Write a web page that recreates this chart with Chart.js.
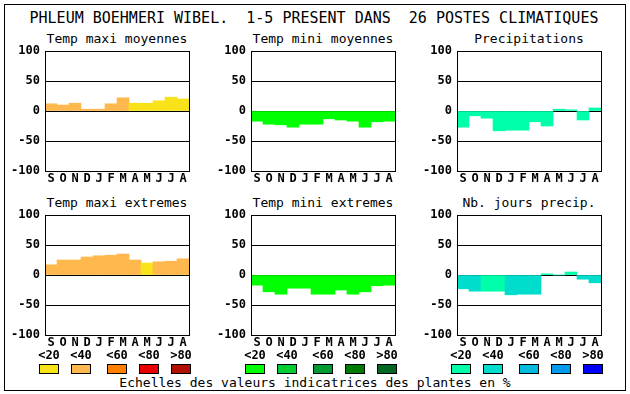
<!DOCTYPE html>
<html>
<head>
<meta charset="utf-8">
<script src="https://cdn.jsdelivr.net/npm/chart.js@4/dist/chart.umd.min.js"></script>
<style>
  body { margin: 0; background: #fff; }
  #page { position: relative; width: 630px; height: 394px; font-family: "DejaVu Sans Mono", monospace; color: #000; }
  #frame { position: absolute; left: 4px; top: 4px; width: 620px; height: 385px; border: 1px solid #000; }
  .txt { position: absolute; white-space: pre; transform: translate(-50%, -50%); line-height: 1; }
  canvas { position: absolute; }
  .box { position: absolute; width: 18px; height: 8px; border: 1px solid #000; }
  .lab { position: absolute; font-weight: bold; font-size: 12px; transform: translate(-50%, -50%); line-height: 1; }
</style>
</head>
<body>
<div id="page">
  <div id="frame"></div>
  <div class="txt" style="left:314px; top:18px; font-size:15px;">PHLEUM BOEHMERI WIBEL.  1-5 PRESENT DANS  26 POSTES CLIMATIQUES</div>
  <div class="txt" style="left:315px; top:382px; font-size:13px;">Echelles des valeurs indicatrices des plantes en %</div>
</div>
<script>
const months = ['S', 'O', 'N', 'D', 'J', 'F', 'M', 'A', 'M', 'J', 'J', 'A'];
const classLabels = ['<20', '<40', '<60', '<80', '>80'];

// values
const tempMaxiMoy = [12, 10, 13, 3, 3, 12, 22, 13, 13, 17, 23, 20];
const tempMiniMoy = [-17, -22, -23, -27, -22, -22, -13, -15, -17, -27, -18, -17];
const precip = [-27, -8, -12, -33, -32, -32, -18, -25, 3, 2, -15, 5];
const tempMaxiExt = [17, 25, 25, 30, 32, 33, 35, 25, 20, 22, 23, 27];
const tempMiniExt = [-17, -28, -32, -22, -22, -32, -32, -25, -32, -28, -18, -17];
const joursPrecip = [-23, -27, -27, -27, -33, -32, -32, 2, 0, 5, -7, -13];

// class of each bar (index into the colour scale)
const tempMaxiMoyClass = [1, 1, 1, 1, 1, 1, 1, 0, 0, 0, 0, 0];
const tempMiniMoyClass = [0, 0, 0, 0, 0, 0, 0, 0, 0, 0, 0, 0];
const precipClass = [0, 0, 0, 0, 0, 0, 0, 0, 0, 0, 0, 0];
const tempMaxiExtClass = [1, 1, 1, 1, 1, 1, 1, 1, 0, 1, 1, 1];
const tempMiniExtClass = [0, 0, 0, 0, 0, 0, 0, 0, 0, 0, 0, 0];
const joursPrecipClass = [1, 1, 0, 0, 1, 1, 1, 0, 0, 0, 1, 1];

const warm = ['#F8E21A', '#FFB84D', '#FF8000', '#E80000', '#B01000'];
const green = ['#00FF00', '#00CC33', '#009933', '#007A00', '#006622'];
const blue = ['#00FFAA', '#00DDCC', '#00BBDD', '#0099EE', '#0000FF'];

const panels = [
  { title: 'Temp maxi moyennes', values: tempMaxiMoy, cls: tempMaxiMoyClass, scale: warm, col: 0, row: 0 },
  { title: 'Temp mini moyennes', values: tempMiniMoy, cls: tempMiniMoyClass, scale: green, col: 1, row: 0 },
  { title: 'Precipitations', values: precip, cls: precipClass, scale: blue, col: 2, row: 0 },
  { title: 'Temp maxi extremes', values: tempMaxiExt, cls: tempMaxiExtClass, scale: warm, col: 0, row: 1 },
  { title: 'Temp mini extremes', values: tempMiniExt, cls: tempMiniExtClass, scale: green, col: 1, row: 1 },
  { title: 'Nb. jours precip.', values: joursPrecip, cls: joursPrecipClass, scale: blue, col: 2, row: 1 }
];

const page = document.getElementById('page');

// draws the box round the plot area
const frame = {
  id: 'frame',
  afterDraw(chart) {
    const a = chart.chartArea;
    const ctx = chart.ctx;
    ctx.save();
    ctx.strokeStyle = '#000';
    ctx.lineWidth = 1;
    ctx.strokeRect(Math.round(a.left) + 0.5, Math.round(a.top) + 0.5, Math.round(a.right - a.left), Math.round(a.bottom - a.top));
    ctx.restore();
  }
};

const tickFont = { family: 'DejaVu Sans Mono', size: 12, weight: 'bold', lineHeight: 1 };

panels.forEach(function (p) {
  const left = p.col * 206;
  const top = p.row === 0 ? 40 : 204;

  const t = document.createElement('div');
  t.className = 'txt';
  t.style.left = (left + 117) + 'px';
  t.style.top = (top - 2) + 'px';
  t.style.fontSize = '13px';
  t.textContent = p.title;
  page.appendChild(t);

  const c = document.createElement('canvas');
  c.style.left = left + 'px';
  c.style.top = top + 'px';
  c.width = 195;
  c.height = 147;
  c.style.width = '195px';
  c.style.height = '147px';
  page.appendChild(c);

  new Chart(c, {
    type: 'bar',
    data: {
      labels: months,
      datasets: [{
        data: p.values,
        backgroundColor: p.cls.map(function (k) { return p.scale[k]; }),
        borderWidth: 0,
        barPercentage: 1,
        categoryPercentage: 1
      }]
    },
    options: {
      responsive: false,
      animation: false,
      layout: { padding: { top: 10, right: 6, bottom: 0, left: 0 } },
      plugins: { legend: { display: false }, tooltip: { enabled: false } },
      scales: {
        x: {
          grid: { display: false, drawTicks: false },
          border: { display: false },
          ticks: { color: '#000', font: tickFont, padding: 2, maxRotation: 0, autoSkip: false }
        },
        y: {
          min: -100,
          max: 100,
          z: 1,
          grid: { color: '#000', lineWidth: 1, drawTicks: false },
          border: { color: '#000' },
          ticks: { stepSize: 50, color: '#000', font: tickFont, padding: 5 },
          afterFit: function (s) { s.width = 45; }
        }
      }
    },
    plugins: [frame]
  });
});

// colour scales under the charts
[warm, green, blue].forEach(function (scale, g) {
  scale.forEach(function (col, i) {
    const x = 39 + g * 206 + i * 32 + (i >= 2 ? 4 : 0);
    const b = document.createElement('div');
    b.className = 'box';
    b.style.left = x + 'px';
    b.style.top = '364px';
    b.style.background = col;
    page.appendChild(b);
    const l = document.createElement('div');
    l.className = 'lab';
    l.style.left = (x + 10) + 'px';
    l.style.top = '355px';
    l.textContent = classLabels[i];
    page.appendChild(l);
  });
});
</script>
</body>
</html>
